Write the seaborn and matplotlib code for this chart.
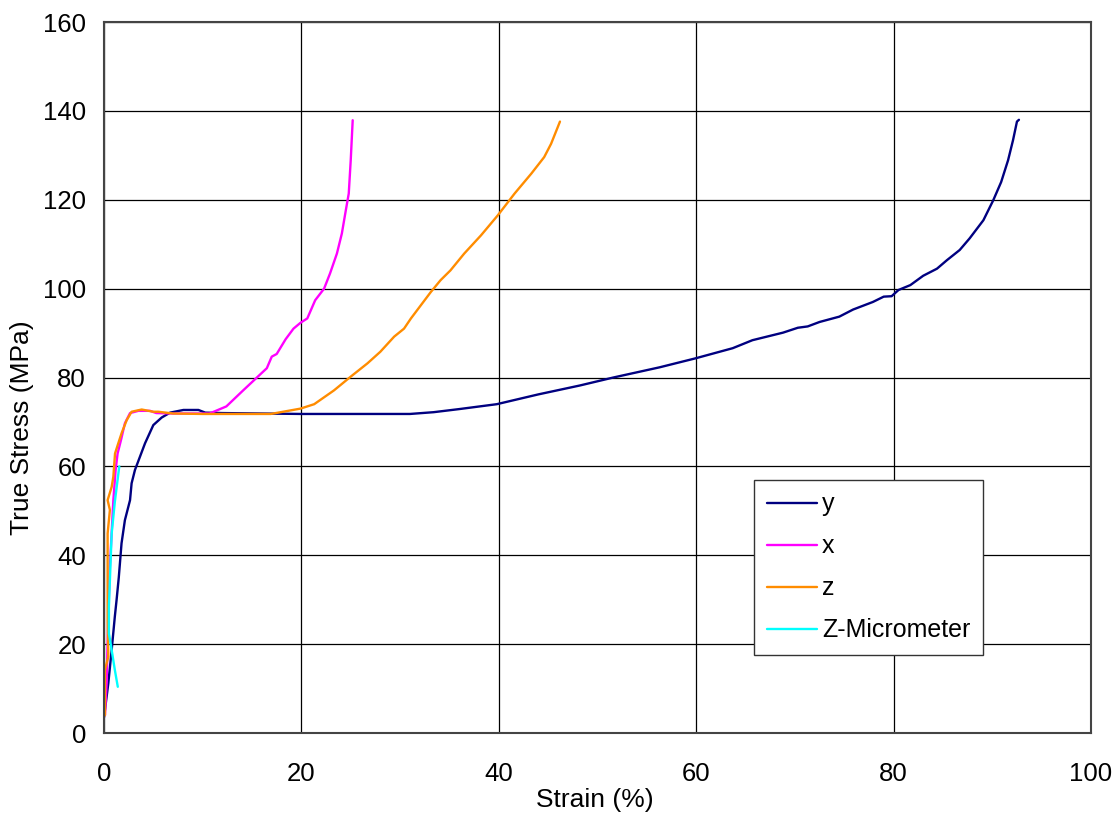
import numpy as np
import pandas as pd
import matplotlib
matplotlib.use("Agg")
import matplotlib.pyplot as plt
import seaborn as sns

# ---- data ----
y_strain = [0.0, 0.1, 0.44, 0.78, 1.1, 1.28, 1.5, 1.78, 2.12, 2.64, 2.8, 3.14, 3.65, 4.16, 5.0, 5.85,
            6.7, 8.05, 9.57, 10.26, 12, 16, 20, 25, 31, 33.4, 36, 39.8, 44, 48.2, 51.6, 56.3, 59.9,
            63.7, 65.7, 68.8, 70.3, 71.3, 72.5, 74.5, 75.9, 77.9, 79.0, 79.8, 80.5, 81.7, 83.0, 84.4,
            85.4, 86.7, 87.7, 89.1, 90.1, 90.9, 91.6, 92.1, 92.5, 92.7]
y_stress = [3.5, 5.2, 11.2, 18.7, 26.2, 30, 35, 42.7, 47.9, 52.4, 56.2, 59.2, 62.2, 65.2, 69.3, 71.0,
            72.1, 72.7, 72.7, 72.1, 72.0, 71.9, 71.8, 71.8, 71.8, 72.2, 72.9, 74.0, 76.2, 78.2, 80.0,
            82.3, 84.3, 86.6, 88.4, 90.1, 91.2, 91.5, 92.5, 93.7, 95.3, 97.0, 98.2, 98.3, 99.7, 100.8,
            102.9, 104.5, 106.4, 108.7, 111.3, 115.4, 119.9, 124.0, 128.9, 133.4, 137.6, 138.0]

x_strain = [0.1, 0.27, 0.44, 0.6, 0.95, 1.18, 1.38, 1.72, 2.12, 2.64, 3.49, 4.67, 5.3, 7, 9, 10.7,
            12.4, 14.1, 16.5, 17.0, 17.5, 18.4, 19.2, 19.9, 20.6, 21.4, 22.3, 22.9, 23.6, 24.1, 24.5,
            24.8, 25.0, 25.2]
x_stress = [4, 11.2, 27, 37.4, 52.4, 59.2, 62.9, 65.9, 69.7, 72, 72.5, 72.5, 72.0, 71.9, 71.9, 71.9,
            73.5, 77.1, 82.1, 84.7, 85.3, 88.6, 91.0, 92.3, 93.3, 97.4, 100, 103.4, 107.9, 112.4, 117.6,
            121.4, 128.9, 137.9]

z_strain = [0.1, 0.1, 0.44, 0.37, 0.37, 0.6, 0.37, 0.78, 0.95, 1.12, 1.45, 1.79, 2.3, 2.8, 3.82, 5.0,
            5.5, 7, 10, 13, 16.9, 19.9, 21.3, 23.3, 25, 26.7, 28.0, 29.4, 30.4, 31.1, 33.1, 34.1, 35.1,
            36.5, 38.2, 39.9, 41.6, 43.3, 44.6, 45.3, 46.2]
z_stress = [4, 14.2, 17.2, 25.4, 44.9, 50.2, 52.4, 55.4, 57.7, 62.9, 65.2, 67.5, 70.4, 72.3, 72.8, 72.3,
            72.3, 71.9, 71.8, 71.8, 71.8, 73.0, 74.0, 77.1, 80.2, 83.2, 85.8, 89.2, 91.0, 93.3, 99.2,
            101.9, 104.1, 107.9, 112.0, 116.5, 121.4, 125.9, 129.6, 132.6, 137.6]

zm_strain = [1.55, 1.1, 0.78, 0.5, 0.5, 0.7, 1.1, 1.4]
zm_stress = [60, 52, 44.9, 28.4, 22.4, 19.8, 14.2, 10.4]

series_names = ["y", "x", "z", "Z-Micrometer"]
series_colors = ["#000080", "#FF00FF", "#FF8C00", "#00FFFF"]
x_ticks = [0, 20, 40, 60, 80, 100]
y_ticks = [0, 20, 40, 60, 80, 100, 120, 140, 160]

sns.set_style("white")
plt.rcParams["font.family"] = ["Liberation Sans", "DejaVu Sans"]
plt.rcParams["text.color"] = "black"
plt.rcParams["axes.labelcolor"] = "black"
plt.rcParams["xtick.color"] = "black"
plt.rcParams["ytick.color"] = "black"

FS = 18.5
fig = plt.figure(figsize=(11.12, 8.16), dpi=100)
ax = fig.add_axes([0.0935, 0.1017, 0.8876, 0.8713])

data = [(y_strain, y_stress), (x_strain, x_stress), (z_strain, z_stress), (zm_strain, zm_stress)]
for (xs, ys), name, col in zip(data, series_names, series_colors):
    df = pd.DataFrame({"Strain": xs, "Stress": ys})
    sns.lineplot(data=df, x="Strain", y="Stress", sort=False, estimator=None,
                 color=col, linewidth=1.7, label=name, ax=ax)

ax.set_xlim(0, 100)
ax.set_ylim(0, 160)
ax.set_xticks(x_ticks)
ax.set_yticks(y_ticks)
ax.grid(True, color="black", linewidth=0.9)
ax.set_axisbelow(True)
for s in ax.spines.values():
    s.set_color("#444444")
    s.set_linewidth(1.5)
ax.tick_params(axis="both", direction="out", length=4, width=1, color="#444444",
               labelsize=FS, labelcolor="black")
ax.tick_params(axis="x", pad=17)
ax.tick_params(axis="y", pad=9)

ax.set_xlabel("Strain (%)", fontsize=19, color="black")
ax.set_ylabel("True Stress (MPa)", fontsize=19, color="black")
ax.xaxis.set_label_coords(0.497, -0.077)
ax.yaxis.set_label_coords(-0.071, 0.43)

leg = ax.legend(loc="upper left", bbox_to_anchor=(0.659, 0.356), fontsize=18,
                frameon=True, fancybox=False, shadow=False, framealpha=1,
                edgecolor="#333333", labelspacing=0.72, handlelength=2.0,
                handletextpad=0.2, borderpad=0.5, borderaxespad=0)
leg.get_frame().set_linewidth(1.0)
for t in leg.get_texts():
    t.set_color("black")

fig.savefig("out.png", dpi=100)
